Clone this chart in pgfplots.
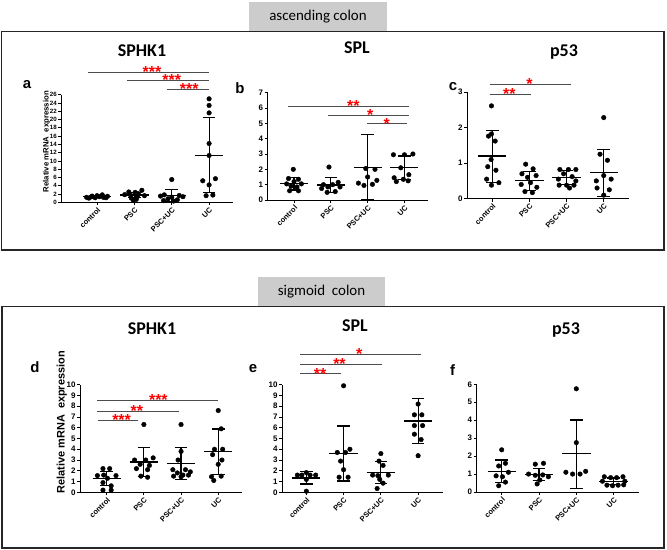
\documentclass[border=0pt]{standalone}
\usepackage{fontspec}
\setmainfont{Liberation Sans}
\newfontfamily\calfont{Carlito}
\usepackage{pgfplots}
\pgfplotsset{compat=1.18}

\pgfplotsset{
  pan/.style={scale only axis, anchor=south west, axis lines=left,
    axis line style={-, line width=0.9bp, black},
    ymin=0, xtick={0,1,2,3}, xticklabels={control,PSC,PSC+UC,UC},
    tick align=outside, major tick length=3bp,
    tick style={black, line width=0.8bp},
    x tick label style={rotate=45, anchor=north east, inner sep=1bp,
      font=\bfseries\fontsize{7.5}{8}\selectfont},
    y tick label style={font=\bfseries\fontsize{8}{9}\selectfont, inner sep=1.5bp},
    /pgf/number format/assume math mode=true,
    clip=false},
  dots/.style={only marks, mark=*, mark size=2.3bp, black},
  sd/.style={black, line width=1.1bp, no marks},
  sig/.style={black!70, line width=1bp, no marks},
}

% mean line with SD whiskers: position, mean, lower, upper
\newcommand{\msd}[4]{%
  \pgfmathsetmacro\ma{#1-0.38}\pgfmathsetmacro\mb{#1+0.38}%
  \pgfmathsetmacro\ca{#1-0.17}\pgfmathsetmacro\cb{#1+0.17}%
  \edef\tmp{%
    \noexpand\addplot[sd] coordinates {(\ma,#2) (\mb,#2)};
    \noexpand\addplot[sd] coordinates {(#1,#3) (#1,#4)};
    \noexpand\addplot[sd] coordinates {(\ca,#3) (\cb,#3)};
    \noexpand\addplot[sd] coordinates {(\ca,#4) (\cb,#4)};}\tmp}
\newcommand{\stars}[3]{\node[red, anchor=base, yshift=-5.2bp,
  font=\bfseries\fontsize{16}{16}\selectfont] at (axis cs:#1,#2) {#3};}

\begin{document}
\begin{tikzpicture}[x=1bp,y=1bp]
\path[use as bounding box] (0,0) rectangle (667,550);

% ---------- ascending colon ----------
\draw[black!85, line width=1.5bp] (1.5,518.5) rectangle (664,300);
\fill[black!20] (249,548.3) rectangle (387,519);
\node[font=\calfont\fontsize{15}{15}\selectfont] at (318,533.5) {ascending colon};

\node[font=\calfont\bfseries\fontsize{18}{18}\selectfont, anchor=base] at (142,493.5) {SPHK1};
\node[font=\calfont\bfseries\fontsize{18}{18}\selectfont, anchor=base] at (357,496.7) {SPL};
\node[font=\calfont\bfseries\fontsize{18}{18}\selectfont, anchor=base] at (564,493.5) {p53};

\node[font=\bfseries\fontsize{15}{15}\selectfont, anchor=base] at (27,461.3) {a};
\node[font=\bfseries\fontsize{15}{15}\selectfont, anchor=base] at (240,456.7) {b};
\node[font=\bfseries\fontsize{15}{15}\selectfont, anchor=base] at (453,459) {c};
\node[rotate=90, font=\bfseries\fontsize{7.8}{9}\selectfont] at (46.5,408.3) {Relative mRNA~~expression};

% a: SPHK1
\begin{axis}[pan, at={(61bp,347.7bp)}, width=172bp, height=107.6bp,
  xmin=-0.965, xmax=3.64, ymax=26, ytick={0,2,...,26},
  y tick label style={font=\bfseries\fontsize{6.2}{6.5}\selectfont, inner sep=1bp}]
\addplot[dots] coordinates {(-0.28,1.2) (-0.16,1.3) (-0.05,1.1) (0.06,1.35) (0.17,1.2)
  (0.28,1.45) (0.0,1.6) (0.14,1.8) (-0.13,1.5) (0.24,1.1) (-0.22,1.0)};
\addplot[dots] coordinates {(1.2,2.9) (0.85,2.5) (1.02,2.4) (1.1,2.1) (0.74,1.85) (0.9,1.7)
  (1.27,1.6) (1.08,1.4) (0.92,1.0) (1.05,0.7) (0.97,0.45)};
\addplot[dots] coordinates {(2.0,5.5) (1.8,1.8) (2.2,1.65) (1.7,1.5) (2.3,1.35) (2.0,1.25)
  (1.9,0.85) (2.15,0.6) (1.78,0.4) (2.05,0.3)};
\addplot[dots] coordinates {(3,25.0) (3,23.4) (3,21.6) (3,14.2) (3,11.3) (2.83,5.2)
  (3.17,5.7) (3,4.2) (2.92,1.6) (3.1,1.75)};
\msd{0}{1.3}{1.05}{1.55}
\msd{1}{1.75}{1.1}{2.4}
\msd{2}{1.6}{0.15}{3.1}
\msd{3}{11.4}{2.4}{20.5}
\addplot[sig] coordinates {(-0.25,31.4) (3,31.4)};
\addplot[sig] coordinates {(0.8,29.5) (3,29.5)};
\addplot[sig] coordinates {(1.87,27.3) (3,27.3)};
\stars{1.47}{31.4}{***}
\stars{2.0}{29.5}{***}
\stars{2.47}{27.3}{***}
\end{axis}

% b: SPL
\begin{axis}[pan, at={(267.7bp,350bp)}, width=160.3bp, height=107.3bp,
  xmin=-0.715, xmax=3.64, ymax=7, ytick={0,...,7}]
\addplot[dots] coordinates {(-0.02,2.0) (-0.15,1.4) (0.12,1.35) (0.0,1.2) (-0.2,1.05)
  (0.2,1.05) (-0.08,0.9) (0.08,0.85) (-0.12,0.6) (0.12,0.6)};
\addplot[dots] coordinates {(0.95,2.15) (1.2,1.15) (0.8,1.0) (1.05,1.0) (0.92,0.85)
  (1.25,0.85) (0.75,0.75) (1.12,0.55) (0.9,0.5)};
\addplot[dots] coordinates {(1.95,2.05) (2.2,2.0) (2.0,1.5) (2.25,1.28) (1.75,1.1)
  (1.9,0.95) (2.13,1.02)};
\addplot[dots] coordinates {(2.7,2.95) (3.0,2.95) (3.23,3.0) (2.9,2.1) (3.12,1.65)
  (2.72,1.45) (2.97,1.35) (2.78,1.2) (3.1,1.25)};
\msd{0}{1.09}{0.65}{1.48}
\msd{1}{0.98}{0.48}{1.48}
\msd{2}{2.13}{0}{4.26}
\msd{3}{2.13}{1.35}{2.87}
\addplot[sig] coordinates {(-0.17,6.11) (3.12,6.11)};
\addplot[sig] coordinates {(0.92,5.54) (3.12,5.54)};
\addplot[sig] coordinates {(1.98,4.96) (3.07,4.96)};
\stars{1.61}{6.11}{**}
\stars{2.07}{5.54}{*}
\stars{2.52}{4.96}{*}
\end{axis}

% c: p53
\begin{axis}[pan, at={(467.3bp,351.3bp)}, width=161.7bp, height=106.7bp,
  xmin=-0.67, xmax=3.68, ymax=3, ytick={0,1,2,3}]
\addplot[dots] coordinates {(-0.02,2.61) (-0.1,1.76) (-0.02,1.82) (0.08,1.62) (-0.03,1.1)
  (-0.12,0.9) (0.1,0.8) (-0.15,0.55) (0.18,0.45) (-0.02,0.38)};
\addplot[dots] coordinates {(0.9,0.97) (1.1,0.84) (0.8,0.7) (1.18,0.65) (0.95,0.6)
  (1.03,0.45) (0.78,0.4) (1.2,0.32) (0.88,0.2) (1.08,0.17)};
\addplot[dots] coordinates {(1.82,0.82) (2.05,0.82) (2.25,0.82) (1.92,0.7) (2.15,0.62)
  (1.78,0.55) (2.25,0.5) (1.8,0.38) (2.0,0.38) (2.2,0.38) (2.08,0.3)};
\addplot[dots] coordinates {(3.0,2.28) (2.9,1.25) (3.1,1.08) (3.0,0.65) (3.2,0.55)
  (2.8,0.5) (2.82,0.3) (3.15,0.25) (3.0,0.1)};
\msd{0}{1.2}{0.46}{1.91}
\msd{1}{0.5}{0.22}{0.76}
\msd{2}{0.6}{0.41}{0.79}
\msd{3}{0.73}{0.07}{1.39}
\addplot[sig] coordinates {(-0.06,3.22) (2.13,3.22)};
\addplot[sig] coordinates {(-0.06,2.94) (1.04,2.94)};
\stars{1.0}{3.22}{*}
\stars{0.46}{2.94}{**}
\end{axis}

% ---------- sigmoid colon ----------
\draw[black!85, line width=1.5bp] (2,243.3) rectangle (664,2);
\fill[black!20] (258,273.3) rectangle (385,244.3);
\node[font=\calfont\fontsize{15}{15}\selectfont] at (321.5,258.3) {sigmoid~~colon};

\node[font=\calfont\bfseries\fontsize{18}{18}\selectfont, anchor=base] at (152,215) {SPHK1};
\node[font=\calfont\bfseries\fontsize{18}{18}\selectfont, anchor=base] at (355,218.3) {SPL};
\node[font=\calfont\bfseries\fontsize{18}{18}\selectfont, anchor=base] at (566,215) {p53};

\node[font=\bfseries\fontsize{15}{15}\selectfont, anchor=base] at (35,177.3) {d};
\node[font=\bfseries\fontsize{15}{15}\selectfont, anchor=base] at (253,177.7) {e};
\node[font=\bfseries\fontsize{15}{15}\selectfont, anchor=base] at (452.7,174.3) {f};
\node[rotate=90, font=\bfseries\fontsize{11}{12}\selectfont] at (61.7,127.7) {Relative mRNA~~expression};

% d: SPHK1
\begin{axis}[pan, at={(80.3bp,57.7bp)}, width=161.7bp, height=107.6bp,
  xmin=-0.71, xmax=3.64, ymax=10, ytick={0,...,10}]
\addplot[dots] coordinates {(-0.1,2.2) (0.08,2.2) (-0.25,1.55) (-0.08,1.6) (0.25,1.55)
  (0.02,1.3) (-0.1,0.9) (0.12,0.6) (-0.1,0.2) (0.12,0.2)};
\addplot[dots] coordinates {(1.0,6.3) (0.75,3.0) (1.25,3.2) (1.05,3.0) (0.9,2.6)
  (1.15,2.5) (0.8,2.2) (1.1,2.1) (0.92,1.5) (1.1,1.4)};
\addplot[dots] coordinates {(2.0,6.3) (2.0,3.8) (1.92,3.0) (2.12,2.1) (1.78,2.1)
  (2.25,1.9) (1.9,1.8) (2.05,1.6) (1.8,1.5) (2.2,1.6) (2.0,1.45)};
\addplot[dots] coordinates {(3.0,7.6) (3.08,5.9) (2.9,4.0) (3.12,4.0) (2.85,3.5)
  (3.1,3.0) (3.0,2.6) (2.82,1.45) (3.08,1.5) (2.88,1.1)};
\msd{0}{1.27}{0.59}{1.95}
\msd{1}{2.82}{1.45}{4.18}
\msd{2}{2.69}{1.18}{4.18}
\msd{3}{3.78}{1.67}{5.88}
\addplot[sig] coordinates {(-0.26,8.51) (3.0,8.51)};
\addplot[sig] coordinates {(-0.26,7.55) (1.94,7.55)};
\addplot[sig] coordinates {(-0.23,6.66) (0.83,6.66)};
\stars{1.39}{8.51}{***}
\stars{0.81}{7.55}{**}
\stars{0.40}{6.66}{***}
\end{axis}

% e: SPL
\begin{axis}[pan, at={(282.3bp,57.7bp)}, width=160.4bp, height=107.6bp,
  xmin=-0.645, xmax=3.66, ymax=10, ytick={0,...,10}]
\addplot[dots] coordinates {(0.0,1.83) (-0.24,1.6) (-0.12,1.6) (0.1,1.6) (0.25,1.6)
  (0.0,1.2) (0.0,0.1)};
\addplot[dots] coordinates {(1.0,9.9) (1.17,4.0) (0.83,3.7) (1.05,3.7) (0.92,2.9)
  (1.0,2.1) (0.88,1.4) (1.12,1.4)};
\addplot[dots] coordinates {(2.0,3.6) (1.95,2.9) (2.06,2.5) (1.78,1.6) (1.92,1.55)
  (2.2,1.6) (1.97,1.2) (2.06,0.85) (1.9,0.35)};
\addplot[dots] coordinates {(3.0,8.2) (2.9,7.2) (3.1,7.2) (2.9,6.2) (3.12,6.2)
  (2.9,5.4) (3.08,4.9) (3.0,3.4)};
\msd{0}{1.33}{0.77}{1.95}
\msd{1}{3.6}{1.05}{6.16}
\msd{2}{1.86}{0.8}{2.9}
\msd{3}{6.63}{4.52}{8.7}
\addplot[sig] coordinates {(-0.17,12.85) (3.08,12.85)};
\addplot[sig] coordinates {(-0.17,11.9) (2.03,11.9)};
\addplot[sig] coordinates {(-0.17,11.0) (0.92,11.0)};
\stars{1.42}{12.85}{*}
\stars{0.89}{11.9}{**}
\stars{0.37}{11.0}{**}
\end{axis}

% f: p53
\begin{axis}[pan, at={(476.7bp,58bp)}, width=162.3bp, height=107.7bp,
  xmin=-0.67, xmax=3.68, ymax=6, ytick={0,...,6}]
\addplot[dots] coordinates {(0.0,2.35) (0.1,1.6) (-0.08,1.45) (-0.15,0.9) (0.18,1.1)
  (0.02,0.85) (0.1,0.55) (-0.08,0.35)};
\addplot[dots] coordinates {(0.9,1.55) (1.12,1.6) (0.72,1.0) (0.9,0.93) (1.1,0.95)
  (1.25,0.85) (1.02,0.67) (0.95,0.45)};
\addplot[dots] coordinates {(2.0,5.75) (2.0,2.75) (1.72,1.1) (1.9,1.0) (2.1,1.0) (2.25,1.15)};
\addplot[dots] coordinates {(2.75,0.85) (2.92,0.8) (3.08,0.8) (3.25,0.85) (2.7,0.6)
  (3.3,0.6) (2.82,0.38) (2.97,0.35) (3.12,0.38) (3.27,0.4)};
\msd{0}{1.15}{0.52}{1.78}
\msd{1}{0.97}{0.63}{1.3}
\msd{2}{2.12}{0.2}{4.01}
\msd{3}{0.6}{0.43}{0.78}
\end{axis}
\end{tikzpicture}
\end{document}
